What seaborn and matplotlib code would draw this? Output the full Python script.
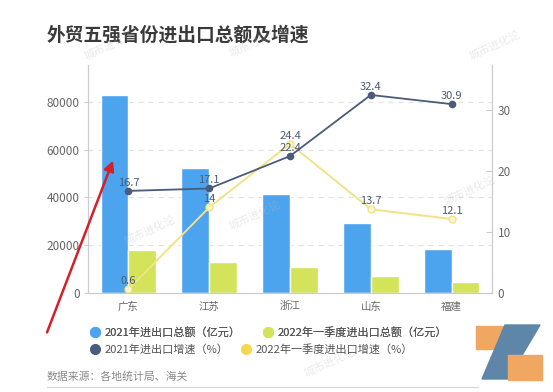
import pandas as pd
import numpy as np
import seaborn as sns
import matplotlib.pyplot as plt
from matplotlib.lines import Line2D
from matplotlib.patches import Polygon, Rectangle, FancyArrowPatch

### DATA
provinces = ['广东', '江苏', '浙江', '山东', '福建']
total_2021 = [82680, 52131, 41429, 29304, 18450]
total_2022q1 = [18100, 12950, 10700, 7200, 4400]
growth_2021 = [16.7, 17.1, 22.4, 32.4, 30.9]
growth_2022q1 = [0.6, 14, 24.4, 13.7, 12.1]
growth_labels_2022 = ['0.6', '14', '24.4', '13.7', '12.1']

name_t21 = '2021年进出口总额（亿元）'
name_t22 = '2022年一季度进出口总额（亿元）'
name_g21 = '2021年进出口增速（%）'
name_g22 = '2022年一季度进出口增速（%）'

c_blue = '#4DA4EE'
c_green = '#D3E35A'
c_dark = '#4B5C7A'
c_yellow = '#F1E385'
c_yellow_dot = '#F4D94E'
c_text = '#666666'
c_label = '#4D5B70'

sns.set_style('white')
plt.rcParams['font.family'] = ['Noto Sans CJK SC', 'DejaVu Sans']

bars = pd.DataFrame({
    'prov': provinces * 2,
    'val': total_2021 + total_2022q1,
    'series': [name_t21] * 5 + [name_t22] * 5,
})

fig = plt.figure(figsize=(5.53, 3.92), dpi=100)
ax = fig.add_axes([88/553, 1-293/392, (492-88)/553, (293-65)/392])

sns.barplot(data=bars, x='prov', y='val', hue='series', order=provinces,
            palette=[c_blue, c_green], width=0.69, gap=0, saturation=1,
            legend=False, ax=ax)
ax.set_xlim(-0.5, 4.5)
ax.set_ylim(0, 95400)
ax.set_yticks([0, 20000, 40000, 60000, 80000])
ax.set_xlabel('')
ax.set_ylabel('')
for y in [20000, 40000, 60000, 80000]:
    ax.axhline(y, color='#E2E2E2', lw=0.9, ls=(0, (4, 4)), zorder=0)
ax.tick_params(axis='y', labelsize=8.5, colors=c_text, length=3, color='#CCCCCC', pad=3)
ax.tick_params(axis='x', labelsize=7.5, colors=c_text, length=0, pad=6)
for s in ['top', 'right']:
    ax.spines[s].set_visible(False)
for s in ['left', 'bottom']:
    ax.spines[s].set_color('#CCCCCC')
    ax.spines[s].set_linewidth(0.9)

ax2 = ax.twinx()
ax2.set_position(ax.get_position())
ax2.plot(range(5), growth_2022q1, color=c_yellow, lw=1.4, marker='o', ms=5,
         mfc='#FBF6D2', mec=c_yellow, mew=1, zorder=3)
ax2.plot(range(5), growth_2021, color=c_dark, lw=1.3, marker='o', ms=4.5,
         mfc=c_dark, mec=c_dark, zorder=4)
for i, v in enumerate(growth_2021):
    ax2.annotate(f'{v}', (i, v), xytext=(0, 6), textcoords='offset points',
                 ha='center', va='center', fontsize=8, color=c_label)
for i, v in enumerate(growth_2022q1):
    ax2.annotate(growth_labels_2022[i], (i, v), xytext=(0, 6), textcoords='offset points',
                 ha='center', va='center', fontsize=8, color=c_label)
ax2.set_ylim(0, 37.3)
ax2.set_yticks([0, 10, 20, 30])
ax2.tick_params(axis='y', labelsize=8.5, colors=c_text, length=4, direction='in',
                color='#CCCCCC', pad=4)
for s in ['top', 'left', 'bottom']:
    ax2.spines[s].set_visible(False)
ax2.spines['right'].set_color('#CCCCCC')
ax2.spines['right'].set_linewidth(0.9)
ax2.grid(False)

# title and source
fig.text(47/553, 1-35/392, '外贸五强省份进出口总额及增速', fontsize=13.5,
         fontweight='bold', color='#3A3A3A', ha='left', va='center')
fig.text(47/553, 1-377/392, '数据来源：各地统计局、海关', fontsize=7.8,
         color='#8A8A8A', ha='left', va='center')
fig.add_artist(Line2D([47/553, 478/553], [1-387/392, 1-387/392],
                      transform=fig.transFigure, color='#D5D5D5', lw=0.8))

# legend, two rows
def dot(c):
    return Line2D([], [], ls='', marker='o', ms=7, mfc=c, mec=c)

leg1 = fig.legend([dot(c_blue), dot(c_green)], [name_t21, name_t22], ncol=2,
                  loc='center left', bbox_to_anchor=(85/553, 1-332/392),
                  frameon=False, fontsize=8, handlelength=0.8, handletextpad=0.5,
                  columnspacing=2.0, labelcolor='#555555', borderpad=0)
leg2 = fig.legend([dot(c_dark), dot(c_yellow_dot)], [name_g21, name_g22], ncol=2,
                  loc='center left', bbox_to_anchor=(85/553, 1-349/392),
                  frameon=False, fontsize=8, handlelength=0.8, handletextpad=0.5,
                  columnspacing=1.1, labelcolor='#555555', borderpad=0)
fig.add_artist(leg1)

# red arrow
arrow = FancyArrowPatch((46/553, 1-335/392), (114/553, 1-158/392),
                        transform=fig.transFigure, arrowstyle='-|>',
                        mutation_scale=15, color='#D3202A', lw=1.8)
fig.add_artist(arrow)

# logo
def px(x, y):
    return (x/553, 1-y/392)

fig.add_artist(Rectangle(px(476, 349), 27/553, 23/392, transform=fig.transFigure,
                         color='#F0A762', zorder=5))
fig.add_artist(Polygon([px(505, 325), px(540, 325), px(508, 379), px(482, 379)],
                       closed=True, transform=fig.transFigure, color='#5E86A9', zorder=6))
fig.add_artist(Rectangle(px(508, 380), 34/553, 25/392, transform=fig.transFigure,
                         color='#F0A762', zorder=7))

# watermarks
for (x, y) in [(110, 45), (255, 42), (495, 45), (150, 230), (255, 215), (470, 190), (330, 362)]:
    fig.text(x/553, 1-y/392, '城市进化论', fontsize=8, color='#BBBBBB', alpha=0.3,
             rotation=25, ha='center', va='center')

fig.savefig('out.png', dpi=100)
